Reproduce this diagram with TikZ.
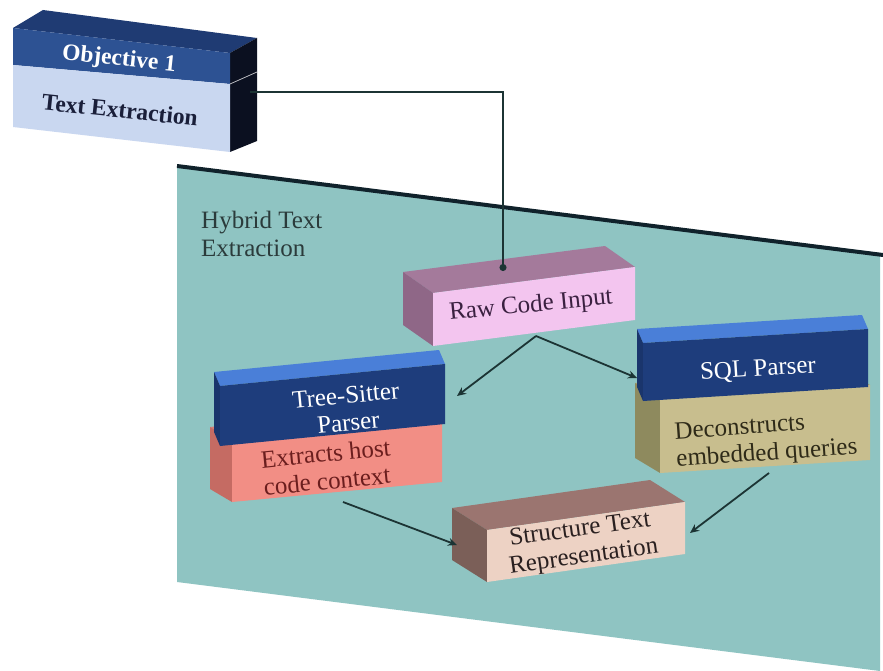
\documentclass[tikz,border=0pt]{standalone}
\usepackage{fontspec}
\setmainfont{Liberation Serif}
\usetikzlibrary{calc,arrows.meta}
\definecolor{panelC}{HTML}{8FC4C2}
\definecolor{panelEdge}{HTML}{10222B}
\definecolor{objTop}{HTML}{1F3B73}
\definecolor{objHead}{HTML}{2D5293}
\definecolor{objBody}{HTML}{C9D7F0}
\definecolor{objSide}{HTML}{0B1020}
\definecolor{objText}{HTML}{1A1F3A}
\definecolor{rawFront}{HTML}{F3C5EF}
\definecolor{rawTop}{HTML}{A47A9B}
\definecolor{rawSide}{HTML}{8F6787}
\definecolor{rawText}{HTML}{3A2040}
\definecolor{blueTop}{HTML}{4A7FD8}
\definecolor{blueFront}{HTML}{1E3D7C}
\definecolor{blueSide}{HTML}{1A356C}
\definecolor{salFront}{HTML}{F28E85}
\definecolor{salSide}{HTML}{C56B63}
\definecolor{salTop}{HTML}{D77D74}
\definecolor{salText}{HTML}{6B1E1E}
\definecolor{khFront}{HTML}{C8BE8E}
\definecolor{khSide}{HTML}{8E8A5E}
\definecolor{khTop}{HTML}{A9A070}
\definecolor{khText}{HTML}{2E2A18}
\definecolor{stFront}{HTML}{EDD2C4}
\definecolor{stTop}{HTML}{9B7570}
\definecolor{stSide}{HTML}{7B5F58}
\definecolor{stText}{HTML}{2A2020}
\definecolor{lineC}{HTML}{1C3434}
\definecolor{hybText}{HTML}{2B3B3B}
% box with visible left side: name, TL, TR, height, depth(dx,dy), front, top, side
\newcommand\boxleft[8]{%
  \coordinate (#1-tl) at #2;
  \coordinate (#1-tr) at #3;
  \coordinate (#1-bl) at ($(#1-tl)+(0,#4)$);
  \coordinate (#1-br) at ($(#1-tr)+(0,#4)$);
  \fill[#7] (#1-tl) -- (#1-tr) -- ($(#1-tr)+(#5)$) -- ($(#1-tl)+(#5)$) -- cycle;
  \fill[#8] (#1-tl) -- ($(#1-tl)+(#5)$) -- ($(#1-bl)+(#5)$) -- (#1-bl) -- cycle;
  \fill[#6] (#1-tl) -- (#1-tr) -- (#1-br) -- (#1-bl) -- cycle;
}
\begin{document}
\begin{tikzpicture}[x=1pt,y=-1pt,
  conn/.style={draw=lineC, line width=1.8pt, -{Stealth[length=9pt,width=8pt]}},
  feed/.style={draw=lineC, line width=1.6pt, -{Circle[length=7pt]}},
  boxtext/.style={font=\fontsize{25}{27.5}\selectfont, inner sep=0pt, align=center},
  objtext/.style={font=\fontsize{23.5}{24}\selectfont\bfseries, inner sep=0pt}]
\useasboundingbox (0,0) rectangle (883,671);
\fill[white] (0,0) rectangle (883,671);
% panel
\fill[panelC] (177,165) -- (880,253) -- (880,671) -- (177,582) -- cycle;
\draw[panelEdge, line width=4pt] (177,166) -- (883,255);
\node[anchor=north west, align=left, inner sep=0pt, text=hybText,
  font=\fontsize{25}{28}\selectfont] (hyb) at (201,211) {Hybrid Text\\Extraction};
% objective box
\fill[objTop] (13,28) -- (43,10) -- (257,38) -- (230,53) -- cycle;
\fill[objSide] (230,53) -- (257,38) -- (257,141) -- (230,152) -- cycle;
\fill[objHead] (13,28) -- (230,53) -- (230,84) -- (13,65) -- cycle;
\fill[objBody] (13,65) -- (230,84) -- (230,152) -- (13,127) -- cycle;
\draw[white!70!objSide, line width=0.8pt] (230,84) -- (257,72);
\node[objtext, text=white, rotate=-6] (obj1) at (119,60) {Objective 1};
\node[objtext, text=objText, rotate=-6] (obj2) at (120,110) {Text Extraction};
\coordinate (obj-out) at (250,92);
% raw code input
\boxleft{raw}{(433,293)}{(635,267)}{53}{-30,-21}{rawFront}{rawTop}{rawSide}
\node[boxtext, text=rawText, rotate=5.6] (rawtxt) at (531,306) {Raw Code Input};
\coordinate (raw-in) at (503,271);
\coordinate (raw-out) at (536,336);
% tree-sitter stack
\boxleft{sal}{(232,440)}{(442,420)}{62}{-22,-13}{salFront}{salTop}{salSide}
\boxleft{ts}{(220,386)}{(445,364)}{60}{-6,-14}{blueFront}{blueTop}{blueSide}
\node[boxtext, text=white, rotate=5.5] (tstxt) at (347,409) {Tree-Sitter\\Parser};
\node[boxtext, align=left, text=salText, rotate=5.5] (saltxt) at (327,467) {Extracts host\\code context};
\coordinate (ts-in) at (457,396);
\coordinate (ts-out) at (343,502);
% sql stack
\boxleft{kh}{(660,398)}{(870,385)}{75}{-25,-15}{khFront}{khTop}{khSide}
\boxleft{sql}{(643,343)}{(868,329)}{58}{-6,-14}{blueFront}{blueTop}{blueSide}
\node[boxtext, text=white, rotate=3.6] (sqltxt) at (758,370) {SQL Parser};
\node[boxtext, align=left, text=khText, rotate=4] (khtxt) at (766,441) {Deconstructs\\embedded queries};
\coordinate (sql-in) at (637,378);
\coordinate (sql-out) at (769,473);
% structure text representation
\boxleft{st}{(487,530)}{(685,502)}{52}{-35,-22}{stFront}{stTop}{stSide}
\node[boxtext, text=stText, rotate=8] (sttxt) at (582,544) {Structure Text\\Representation};
\coordinate (st-inl) at (457,545);
\coordinate (st-inr) at (690,533);
% connectors
\draw[feed] (obj-out) -| (raw-in);
\draw[conn] (raw-out) -- (ts-in);
\draw[conn] (raw-out) -- (sql-in);
\draw[conn] (ts-out) -- (st-inl);
\draw[conn] (sql-out) -- (st-inr);
\end{tikzpicture}
\end{document}
